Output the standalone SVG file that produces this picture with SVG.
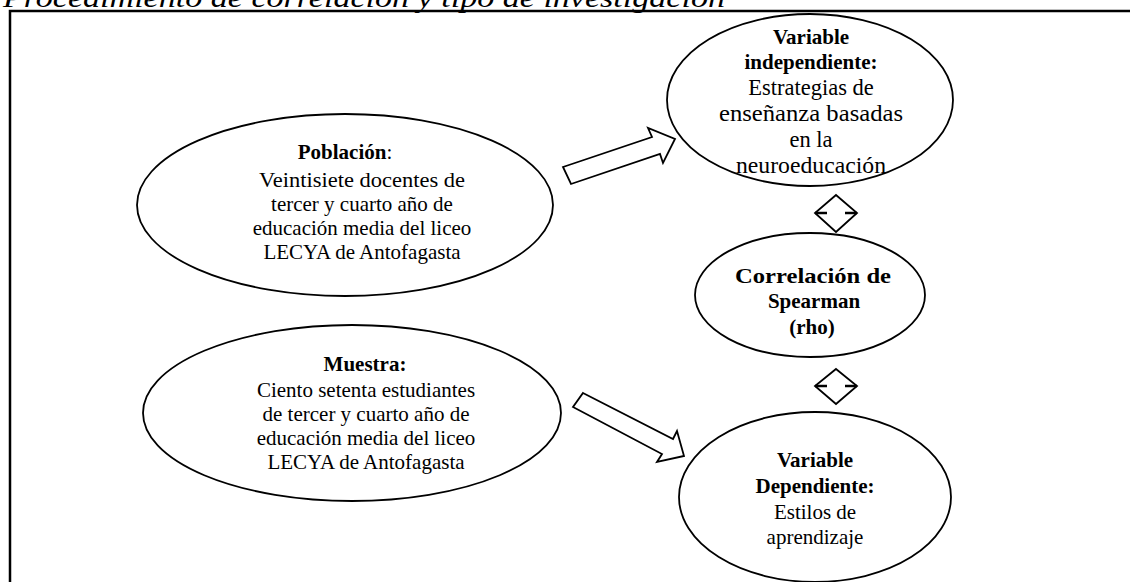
<svg xmlns="http://www.w3.org/2000/svg" width="1130" height="582" viewBox="0 0 1130 582">
<style>
.n{fill:#fff;stroke:#000;stroke-width:1.8}
.t{font-family:"Liberation Serif","Times New Roman",serif;font-size:21px;fill:#000;text-anchor:middle}
.l{font-size:22.5px}
.b{font-weight:bold}
.a{fill:#fff;stroke:#000;stroke-width:1.8;stroke-linejoin:miter}
.tk{stroke:#000;stroke-width:2.5}
</style>
<rect width="1130" height="582" fill="#fff"/>
<text x="3" y="7" font-family="Liberation Serif,serif" font-style="italic" font-size="28" textLength="722" lengthAdjust="spacingAndGlyphs">Procedimiento de correlación y tipo de investigación</text>
<path d="M10 582 V11 H1130" fill="none" stroke="#000" stroke-width="2.5"/>
<g id="connectors">
<polygon class="a" points="563,167 652,137 648,128 675,139 663,163 660,154 571,184"/>
<polygon class="a" points="583,393 673,439 677,431 684,456 657,462 662,454 573,407"/>
<polygon class="a" points="836,195 857,213 836,232 815,213"/>
<line class="tk" x1="815" y1="213" x2="827" y2="213"/>
<line class="tk" x1="845" y1="213" x2="857" y2="213"/>
<polygon class="a" points="836,369 857,386 836,404 815,386"/>
<line class="tk" x1="815" y1="386" x2="827" y2="386"/>
<line class="tk" x1="845" y1="386" x2="857" y2="386"/>
</g>
<g id="poblacion">
<ellipse class="n" cx="345" cy="205" rx="208" ry="91"/>
<text class="t" x="345" y="159"><tspan class="b">Población</tspan>:</text>
<text class="t" x="362" y="187" textLength="206" lengthAdjust="spacingAndGlyphs">Veintisiete  docentes de</text>
<text class="t" x="362" y="211">tercer y cuarto año de</text>
<text class="t" x="362" y="235">educación media del liceo</text>
<text class="t" x="362" y="259">LECYA de Antofagasta</text>
</g>
<g id="muestra">
<ellipse class="n" cx="352" cy="413" rx="209" ry="88"/>
<text class="t b" x="365" y="371">Muestra:</text>
<text class="t" x="366" y="397">Ciento setenta estudiantes</text>
<text class="t" x="366" y="421">de tercer y cuarto año de</text>
<text class="t" x="366" y="445">educación media del liceo</text>
<text class="t" x="366" y="469">LECYA de Antofagasta</text>
</g>
<g id="var-independiente">
<ellipse class="n" cx="810" cy="100" rx="143" ry="86"/>
<text class="t b" x="811" y="44">Variable</text>
<text class="t b" x="811" y="69">independiente:</text>
<text class="t l" x="811" y="95">Estrategias de</text>
<text class="t l" x="811" y="121" textLength="184" lengthAdjust="spacingAndGlyphs">enseñanza basadas</text>
<text class="t l" x="811" y="147">en la</text>
<text class="t l" x="811" y="173" textLength="150" lengthAdjust="spacingAndGlyphs">neuroeducación</text>
</g>
<g id="correlacion">
<ellipse class="n" cx="810" cy="295" rx="115" ry="62"/>
<text class="t b" x="813" y="283" textLength="156" lengthAdjust="spacingAndGlyphs">Correlación  de</text>
<text class="t b" x="814" y="308">Spearman</text>
<text class="t b" x="812" y="334">(rho)</text>
</g>
<g id="var-dependiente">
<ellipse class="n" cx="815" cy="497" rx="136" ry="85"/>
<text class="t b" x="815" y="467">Variable</text>
<text class="t b" x="815" y="493">Dependiente:</text>
<text class="t" x="815" y="519">Estilos de</text>
<text class="t" x="815" y="544">aprendizaje</text>
</g>
</svg>
